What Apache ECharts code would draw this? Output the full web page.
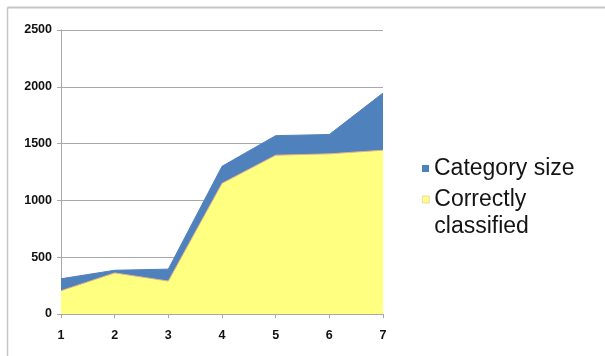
<!DOCTYPE html>
<html>
<head>
<meta charset="utf-8">
<script src="https://cdn.jsdelivr.net/npm/echarts@6/dist/echarts.min.js"></script>
<style>
  html, body { margin: 0; padding: 0; background: #fff; }
  #chart { width: 605px; height: 356px; }
</style>
</head>
<body>
<div id="chart"></div>
<script>
// Categories along the x axis
const categories = ['1', '2', '3', '4', '5', '6', '7'];
// Total size of each category
const categorySize = [310, 385, 395, 1300, 1570, 1580, 1945];
// Number of items correctly classified in each category
const correctlyClassified = [205, 362, 290, 1150, 1398, 1410, 1442];
// Y axis ticks
const yMin = 0, yMax = 2500, yStep = 500;

const chart = echarts.init(document.getElementById('chart'), null, { renderer: 'canvas' });

const axisGrey = '#a8a8a8';
const labelFont = { fontSize: 12.5, fontWeight: 'bold', color: '#111', fontFamily: 'Liberation Sans, Arial, sans-serif' };
const legendFont = { fontFamily: 'Liberation Sans, Arial, sans-serif', fontSize: 23, color: '#141414' };

chart.setOption({
  animation: false,
  backgroundColor: '#fff',
  grid: { left: 61, right: 222, top: 30, bottom: 42, containLabel: false },
  legend: [
    {
      data: ['Category size'],
      orient: 'vertical',
      left: 417, top: 152,
      itemWidth: 7, itemHeight: 7,
      icon: 'rect',
      selectedMode: false,
      textStyle: legendFont
    },
    {
      data: ['Correctly classified'],
      orient: 'vertical',
      left: 417, top: 154,
      itemWidth: 7, itemHeight: 7,
      icon: 'rect',
      selectedMode: false,
      itemStyle: { borderColor: '#EBB8A8', borderWidth: 0.6 },
      // leading blank line keeps the first text line level with the marker
      formatter: () => ' \nCorrectly\nclassified',
      textStyle: Object.assign({ lineHeight: 27 }, legendFont)
    }
  ],
  xAxis: {
    type: 'category',
    data: categories,
    boundaryGap: false,
    axisLine: { show: true, lineStyle: { color: axisGrey, width: 1 } },
    axisTick: { show: true, length: 4, lineStyle: { color: axisGrey } },
    axisLabel: Object.assign({ margin: 15 }, labelFont),
    splitLine: { show: false }
  },
  yAxis: {
    type: 'value',
    min: yMin, max: yMax, interval: yStep,
    axisLine: { show: true, lineStyle: { color: axisGrey, width: 1 } },
    axisTick: { show: true, length: 4, lineStyle: { color: axisGrey } },
    axisLabel: Object.assign({ margin: 9, formatter: v => String(v) }, labelFont),
    splitLine: { show: true, lineStyle: { color: axisGrey, width: 1 } }
  },
  series: [
    {
      name: 'Category size',
      type: 'line',
      data: categorySize,
      showSymbol: false,
      symbol: 'none',
      lineStyle: { color: '#4F81BD', width: 1 },
      itemStyle: { color: '#4F81BD' },
      areaStyle: { color: '#4F81BD', opacity: 1 },
      z: 2
    },
    {
      name: 'Correctly classified',
      type: 'line',
      data: correctlyClassified,
      showSymbol: false,
      symbol: 'none',
      lineStyle: { color: '#E3B08A', width: 1 },
      itemStyle: { color: '#FFFF80' },
      areaStyle: { color: '#FFFF80', opacity: 1 },
      z: 3
    }
  ],
  graphic: [
    { type: 'line', shape: { x1: 7.5, y1: 7.5, x2: 605, y2: 7.5 }, style: { stroke: '#c6c6c6', lineWidth: 2 }, silent: true },
    { type: 'line', shape: { x1: 7.5, y1: 7.5, x2: 7.5, y2: 356 }, style: { stroke: '#c6c6c6', lineWidth: 1.5 }, silent: true }
  ]
});
</script>
</body>
</html>
